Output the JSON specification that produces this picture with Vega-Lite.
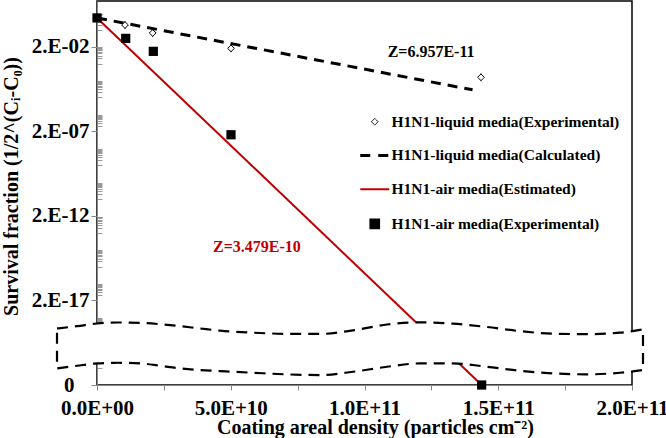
{
  "$schema": "https://vega.github.io/schema/vega-lite/v6.json",
  "width": 535,
  "height": 384,
  "autosize": {"type": "none"},
  "padding": {"left": 97, "top": 1, "right": 34, "bottom": 53},
  "background": "white",
  "config": {
    "view": {"stroke": "black", "strokeWidth": 1.5},
    "font": "Liberation Serif",
    "axis": {"grid": false}
  },
  "datasets": {
    "series": [
      {"series": "H1N1-liquid media(Calculated)", "x": 0, "y": 1},
      {"series": "H1N1-liquid media(Calculated)", "x": 1.404e11, "y": 5.6e-5},
      {"series": "H1N1-air media(Estimated)", "x": 0, "y": 1},
      {"series": "H1N1-air media(Estimated)", "x": 1.438e11, "y": 2e-22},
      {"series": "H1N1-liquid media(Experimental)", "x": 0, "y": 1},
      {"series": "H1N1-liquid media(Experimental)", "x": 1.047e10, "y": 0.38, "lo": 0.224, "hi": 0.646},
      {"series": "H1N1-liquid media(Experimental)", "x": 2.082e10, "y": 0.1286, "lo": 0.0757, "hi": 0.219},
      {"series": "H1N1-liquid media(Experimental)", "x": 5.009e10, "y": 0.0159, "lo": 0.00935, "hi": 0.027},
      {"series": "H1N1-liquid media(Experimental)", "x": 1.4355e11, "y": 3.1e-4, "lo": 1.82e-4, "hi": 5.27e-4},
      {"series": "H1N1-air media(Experimental)", "x": 0, "y": 1},
      {"series": "H1N1-air media(Experimental)", "x": 1.073e10, "y": 0.0617},
      {"series": "H1N1-air media(Experimental)", "x": 2.105e10, "y": 0.01057},
      {"series": "H1N1-air media(Experimental)", "x": 5.009e10, "y": 1.24e-7},
      {"series": "H1N1-air media(Experimental)", "x": 1.438e11, "y": 2e-22}
    ],
    "band": [
      {"x": -1.495e10, "y": 4.40e-19, "bottom": 1.92e-21},
      {"x": -7.48e9, "y": 6.00e-19, "bottom": 2.74e-21},
      {"x": 0, "y": 8.65e-19, "bottom": 3.79e-21},
      {"x": 7.48e9, "y": 9.93e-19, "bottom": 4.12e-21},
      {"x": 1.608e10, "y": 9.40e-19, "bottom": 3.79e-21},
      {"x": 2.355e10, "y": 7.87e-19, "bottom": 2.74e-21},
      {"x": 3.103e10, "y": 6.00e-19, "bottom": 1.92e-21},
      {"x": 3.85e10, "y": 4.40e-19, "bottom": 1.53e-21},
      {"x": 4.598e10, "y": 3.26e-19, "bottom": 1.33e-21},
      {"x": 5.832e10, "y": 2.48e-19, "bottom": 1.06e-21},
      {"x": 7.103e10, "y": 2.11e-19, "bottom": 8.51e-22},
      {"x": 8.336e10, "y": 2.08e-19, "bottom": 7.74e-22},
      {"x": 9.57e10, "y": 3.40e-19, "bottom": 1.21e-21},
      {"x": 1.0841e11, "y": 7.55e-19, "bottom": 2.39e-21},
      {"x": 1.2075e11, "y": 1.005e-18, "bottom": 3.79e-21},
      {"x": 1.3308e11, "y": 8.43e-19, "bottom": 3.79e-21},
      {"x": 1.4579e11, "y": 5.38e-19, "bottom": 2.39e-21},
      {"x": 1.5813e11, "y": 3.04e-19, "bottom": 1.39e-21},
      {"x": 1.7047e11, "y": 2.17e-19, "bottom": 9.75e-22},
      {"x": 1.8318e11, "y": 2.03e-19, "bottom": 8.51e-22},
      {"x": 1.9551e11, "y": 2.48e-19, "bottom": 1.06e-21},
      {"x": 2.0411e11, "y": 3.84e-19, "bottom": 1.53e-21}
    ],
    "notes": [
      {"x": 1.249e11, "y": 9.2e-3, "label": "Z=6.957E-11", "group": "liquid"},
      {"x": 5.98e10, "y": 2.8e-14, "label": "Z=3.479E-10", "group": "air"}
    ]
  },
  "layer": [
    {
      "data": {"name": "series"},
      "transform": [{"filter": "datum.series === 'H1N1-liquid media(Calculated)'"}],
      "mark": {"type": "line", "strokeWidth": 3, "strokeDash": [10, 7]},
      "encoding": {
        "x": {
          "field": "x", "type": "quantitative",
          "title": "Coating areal density (particles cm⁻²)",
          "scale": {"domain": [0, 2e11], "nice": false, "zero": false},
          "axis": {
            "values": [0, 2.5e10, 5e10, 7.5e10, 1e11, 1.25e11, 1.5e11, 1.75e11, 2e11],
            "labelExpr": "datum.value % 5e10 !== 0 ? '' : datum.value === 0 ? '0.0E+00' : upper(format(datum.value, '.1e'))",
            "labelFlush": false,
            "labelOverlap": false,
            "labelBound": false,
            "domainColor": "#888888",
            "tickColor": "#888888",
            "tickSize": 5,
            "labelFont": "Liberation Serif",
            "labelFontWeight": "bold",
            "labelFontSize": 21,
            "labelColor": "black",
            "labelBaseline": "alphabetic",
            "labelPadding": 24,
            "titleFont": "Liberation Serif",
            "titleFontWeight": "bold",
            "titleFontSize": 20,
            "titleColor": "black",
            "titleX": 278,
            "titleY": 48,
            "titleAlign": "center",
            "titleBaseline": "alphabetic"
          }
        },
        "y": {
          "field": "y", "type": "quantitative",
          "title": "Survival fraction (1/2^(Cᵢ-C₀))",
          "scale": {"type": "log", "domain": [2e-22, 10], "nice": false},
          "axis": {
            "orient": "left",
            "values": [2e-22, 2e-17, 2e-12, 2e-7, 2e-2,
              0.2,0.4,0.6,0.8,1,1.2,1.4,1.6,1.8,
              2e-3,4e-3,6e-3,8e-3,1e-2,1.2e-2,1.4e-2,1.6e-2,1.8e-2,
              2e-5,4e-5,6e-5,8e-5,1e-4,1.2e-4,1.4e-4,1.6e-4,1.8e-4,
              4e-7,6e-7,8e-7,1e-6,1.2e-6,1.4e-6,1.6e-6,1.8e-6,
              2e-9,4e-9,6e-9,8e-9,1e-8,1.2e-8,1.4e-8,1.6e-8,1.8e-8,
              2e-11,4e-11,6e-11,8e-11,1e-10,1.2e-10,1.4e-10,1.6e-10,1.8e-10,
              2e-13,4e-13,6e-13,8e-13,1e-12,1.2e-12,1.4e-12,1.6e-12,1.8e-12,
              2e-15,4e-15,6e-15,8e-15,1e-14,1.2e-14,1.4e-14,1.6e-14,1.8e-14,
              4e-17,6e-17,8e-17,1e-16,1.2e-16,1.4e-16,1.6e-16,1.8e-16,
              2e-19,4e-19,6e-19,8e-19,1e-18,1.2e-18,1.4e-18,1.6e-18,1.8e-18,
              2e-21,4e-21,6e-21,8e-21,1e-20,1.2e-20,1.4e-20,1.6e-20,1.8e-20],
            "labelExpr": "datum.value < 1e-21 ? '0' : datum.value === 2e-2 ? '2.E-02' : datum.value === 2e-7 ? '2.E-07' : datum.value === 2e-12 ? '2.E-12' : datum.value === 2e-17 ? '2.E-17' : ''",
            "labelOverlap": false,
            "labelBound": false,
            "domainColor": "#888888",
            "tickColor": {"condition": {"test": "indexof([2e-22, 2e-17, 2e-12, 2e-7, 2e-2], datum.value) >= 0", "value": "#888888"}, "value": "#999999"},
            "tickSize": {"condition": {"test": "indexof([2e-22, 2e-17, 2e-12, 2e-7, 2e-2], datum.value) >= 0", "value": 6}, "value": -5},
            "labelFont": "Liberation Serif",
            "labelFontWeight": "bold",
            "labelFontSize": 21,
            "labelColor": "black",
            "labelPadding": {"condition": {"test": "datum.value < 1e-21", "value": 17}, "value": 2},
            "titleFont": "Liberation Serif",
            "titleFontWeight": "bold",
            "titleFontSize": 20,
            "titleColor": "black",
            "titleAngle": -90,
            "titleX": -86,
            "titleY": 185,
            "titleAlign": "center",
            "titleBaseline": "middle"
          }
        },
        "color": {
          "field": "series", "type": "nominal",
          "scale": {
            "domain": ["H1N1-liquid media(Experimental)", "H1N1-liquid media(Calculated)", "H1N1-air media(Estimated)", "H1N1-air media(Experimental)"],
            "range": ["black", "black", "#C00000", "black"]
          },
          "legend": {
            "orient": "none",
            "legendX": 270,
            "legendY": 113,
            "title": null,
            "symbolType": "stroke",
            "symbolSize": 841,
            "labelFont": "Liberation Serif",
            "labelFontWeight": "bold",
            "labelFontSize": 15.5,
            "labelColor": "black",
            "labelOffset": 9,
            "labelLimit": 400,
            "rowPadding": 16.7,
            "encode": {
              "symbols": {
                "update": {
                  "shape": {"signal": "datum.value === 'H1N1-liquid media(Experimental)' ? 'diamond' : datum.value === 'H1N1-air media(Experimental)' ? 'square' : 'stroke'"},
                  "size": {"signal": "datum.value === 'H1N1-liquid media(Experimental)' ? 45 : datum.value === 'H1N1-air media(Experimental)' ? 75 : 841"},
                  "fill": {"signal": "datum.value === 'H1N1-liquid media(Experimental)' ? 'white' : datum.value === 'H1N1-air media(Experimental)' ? 'black' : 'transparent'"},
                  "stroke": {"signal": "datum.value === 'H1N1-air media(Estimated)' ? '#C00000' : 'black'"},
                  "strokeWidth": {"signal": "datum.value === 'H1N1-liquid media(Experimental)' ? 1 : datum.value === 'H1N1-liquid media(Calculated)' ? 3 : 2"},
                  "strokeDash": {"signal": "datum.value === 'H1N1-liquid media(Calculated)' ? [10, 8] : [1, 0]"},
                  "opacity": {"value": 1}
                }
              }
            }
          }
        }
      }
    },
    {
      "data": {"name": "series"},
      "transform": [{"filter": "datum.series === 'H1N1-air media(Estimated)'"}],
      "mark": {"type": "line", "strokeWidth": 2, "color": "#C00000"},
      "encoding": {
        "x": {"field": "x", "type": "quantitative", "title": "Coating areal density (particles cm⁻²)", "scale": {"domain": [0, 2e11], "nice": false, "zero": false}},
        "y": {"field": "y", "type": "quantitative", "title": "Survival fraction (1/2^(Cᵢ-C₀))", "scale": {"type": "log", "domain": [2e-22, 10], "nice": false}}
      }
    },
    {
      "data": {"name": "band"},
      "mark": {"type": "area", "fill": "white", "stroke": "black", "strokeWidth": 2.2, "strokeDash": [11, 7], "interpolate": "monotone", "clip": false, "opacity": 1},
      "encoding": {
        "x": {"field": "x", "type": "quantitative", "title": "Coating areal density (particles cm⁻²)", "scale": {"domain": [0, 2e11], "nice": false, "zero": false}},
        "y": {"field": "y", "type": "quantitative", "title": "Survival fraction (1/2^(Cᵢ-C₀))", "scale": {"type": "log", "domain": [2e-22, 10], "nice": false}},
        "y2": {"field": "bottom"}
      }
    },
    {
      "data": {"name": "series"},
      "transform": [{"filter": "datum.series === 'H1N1-liquid media(Experimental)' && datum.lo != null"}],
      "mark": {"type": "rule", "color": "black", "strokeWidth": 1},
      "encoding": {
        "x": {"field": "x", "type": "quantitative", "title": "Coating areal density (particles cm⁻²)", "scale": {"domain": [0, 2e11], "nice": false, "zero": false}},
        "y": {"field": "lo", "type": "quantitative", "title": "Survival fraction (1/2^(Cᵢ-C₀))", "scale": {"type": "log", "domain": [2e-22, 10], "nice": false}},
        "y2": {"field": "hi"}
      }
    },
    {
      "data": {"name": "series"},
      "transform": [{"filter": "datum.series === 'H1N1-liquid media(Experimental)'"}],
      "mark": {"type": "point", "shape": "diamond", "size": 45, "filled": true, "fill": "white", "stroke": "black", "strokeWidth": 1, "opacity": 1},
      "encoding": {
        "x": {"field": "x", "type": "quantitative", "title": "Coating areal density (particles cm⁻²)", "scale": {"domain": [0, 2e11], "nice": false, "zero": false}},
        "y": {"field": "y", "type": "quantitative", "title": "Survival fraction (1/2^(Cᵢ-C₀))", "scale": {"type": "log", "domain": [2e-22, 10], "nice": false}}
      }
    },
    {
      "data": {"name": "series"},
      "transform": [{"filter": "datum.series === 'H1N1-air media(Experimental)'"}],
      "mark": {"type": "point", "shape": "square", "size": 85, "filled": true, "color": "black", "opacity": 1},
      "encoding": {
        "x": {"field": "x", "type": "quantitative", "title": "Coating areal density (particles cm⁻²)", "scale": {"domain": [0, 2e11], "nice": false, "zero": false}},
        "y": {"field": "y", "type": "quantitative", "title": "Survival fraction (1/2^(Cᵢ-C₀))", "scale": {"type": "log", "domain": [2e-22, 10], "nice": false}}
      }
    },
    {
      "data": {"name": "notes"},
      "transform": [{"filter": "datum.group === 'liquid'"}],
      "mark": {"type": "text", "font": "Liberation Serif", "fontWeight": "bold", "fontSize": 16, "color": "black", "align": "center", "baseline": "middle"},
      "encoding": {
        "x": {"field": "x", "type": "quantitative", "title": "Coating areal density (particles cm⁻²)", "scale": {"domain": [0, 2e11], "nice": false, "zero": false}},
        "y": {"field": "y", "type": "quantitative", "title": "Survival fraction (1/2^(Cᵢ-C₀))", "scale": {"type": "log", "domain": [2e-22, 10], "nice": false}},
        "text": {"field": "label"}
      }
    },
    {
      "data": {"name": "notes"},
      "transform": [{"filter": "datum.group === 'air'"}],
      "mark": {"type": "text", "font": "Liberation Serif", "fontWeight": "bold", "fontSize": 16, "color": "#C00000", "align": "center", "baseline": "middle"},
      "encoding": {
        "x": {"field": "x", "type": "quantitative", "title": "Coating areal density (particles cm⁻²)", "scale": {"domain": [0, 2e11], "nice": false, "zero": false}},
        "y": {"field": "y", "type": "quantitative", "title": "Survival fraction (1/2^(Cᵢ-C₀))", "scale": {"type": "log", "domain": [2e-22, 10], "nice": false}},
        "text": {"field": "label"}
      }
    }
  ]
}
